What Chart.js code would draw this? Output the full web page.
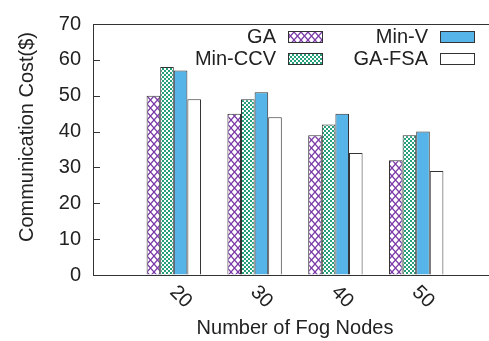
<html>
  <head>
    <script src="https://cdn.jsdelivr.net/npm/chart.js"></script>
    <style>
      body { margin: 0; overflow: hidden; background: #fff; }
      #chart_div { width: 489px; height: 341px; overflow: hidden; }
    </style>
  </head>
  <body>
    <div id="chart_div"><canvas id="costChart" width="500" height="341"></canvas></div>

    <script type="text/javascript">
      // data
      var categories = ['20', '30', '40', '50'];
      var gaValues = [50, 45, 39, 32];
      var minCcvValues = [58, 49, 42, 39];
      var minVValues = [57, 51, 45, 40];
      var gaFsaValues = [49, 44, 34, 29];
      var yTicks = [0, 10, 20, 30, 40, 50, 60, 70];

      var FONT = "'Liberation Sans', Arial, sans-serif";
      var TEXT = '#222';
      var EDGE = '#333';

      // empty slot before and after the groups, like the gnuplot xrange
      var labels = [''].concat(categories, ['']);
      function pad(arr) { return [null].concat(arr, [null]); }

      function makePattern(w, h, draw) {
        var c = document.createElement('canvas');
        c.width = w; c.height = h;
        var g = c.getContext('2d');
        draw(g, w, h);
        return g.createPattern(c, 'repeat');
      }

      var crossHatch = makePattern(7, 8, function (g, w, h) {
        g.fillStyle = '#fff';
        g.fillRect(0, 0, w, h);
        g.strokeStyle = '#7b3aa6';
        g.lineWidth = 1.3;
        g.beginPath();
        g.moveTo(0, 0); g.lineTo(w, h);
        g.moveTo(w, 0); g.lineTo(0, h);
        g.stroke();
      });

      var checker = makePattern(4, 4, function (g, w, h) {
        g.fillStyle = '#25a07a';
        g.fillRect(0, 0, w, h);
        g.fillStyle = '#fff';
        g.fillRect(0, 0, 2, 2);
        g.fillRect(2, 2, 2, 2);
      });

      var series = [
        { label: 'GA', data: gaValues, fill: crossHatch, col: 0, row: 0 },
        { label: 'Min-CCV', data: minCcvValues, fill: checker, col: 0, row: 1 },
        { label: 'Min-V', data: minVValues, fill: '#56b4e9', col: 1, row: 0 },
        { label: 'GA-FSA', data: gaFsaValues, fill: '#ffffff', col: 1, row: 1 }
      ];

      // inward y ticks, top border, rotated x labels, y title and the legend box
      var gnuplotFrame = {
        id: 'gnuplotFrame',
        afterDraw: function (chart) {
          var ctx = chart.ctx;
          var area = chart.chartArea;
          var ys = chart.scales.y, xs = chart.scales.x;
          ctx.save();
          ctx.strokeStyle = EDGE;
          ctx.lineWidth = 1;
          ctx.beginPath();
          ctx.moveTo(area.left, Math.round(area.top) + 0.5);
          ctx.lineTo(area.right + 5, Math.round(area.top) + 0.5);
          yTicks.forEach(function (v) {
            var py = Math.round(ys.getPixelForValue(v)) + 0.5;
            ctx.moveTo(area.left, py);
            ctx.lineTo(area.left + 7, py);
          });
          ctx.stroke();

          ctx.fillStyle = TEXT;
          ctx.font = '20px ' + FONT;
          ctx.textBaseline = 'middle';

          // y axis title
          ctx.save();
          ctx.translate(27, 137);
          ctx.rotate(-Math.PI / 2);
          ctx.textAlign = 'center';
          ctx.fillText('Communication Cost($)', 0, 0);
          ctx.restore();

          // x tick labels, rotated -45 like gnuplot
          ctx.textAlign = 'left';
          categories.forEach(function (lab, i) {
            var px = xs.getPixelForValue(i + 1);
            ctx.save();
            ctx.translate(px - 1, area.bottom + 14);
            ctx.rotate(Math.PI / 4);
            ctx.fillText(lab, 0, 0);
            ctx.restore();
          });

          // legend
          var colText = [276, 428];
          var rowY = [36.5, 58.5];
          chart.data.datasets.forEach(function (ds, i) {
            var s = series[i];
            var tx = colText[s.col], ty = rowY[s.row];
            ctx.fillStyle = TEXT;
            ctx.textAlign = 'right';
            ctx.fillText(ds.label, tx, ty + 1);
            var bx = tx + 12, by = ty - 5.5;
            ctx.fillStyle = ds.backgroundColor;
            ctx.fillRect(bx, by, 34, 11);
            ctx.strokeStyle = EDGE;
            ctx.strokeRect(bx + 0.5, Math.round(by) + 0.5, 34, 11);
          });
          ctx.restore();
        }
      };

      new Chart(document.getElementById('costChart'), {
        type: 'bar',
        data: {
          labels: labels,
          datasets: series.map(function (s) {
            return {
              label: s.label,
              data: pad(s.data),
              backgroundColor: s.fill,
              borderColor: EDGE,
              borderWidth: 1,
              categoryPercentage: 0.673,
              barPercentage: 1
            };
          })
        },
        options: {
          responsive: false,
          animation: false,
          layout: { padding: { top: 15, right: 3, left: 0, bottom: 0 } },
          plugins: {
            legend: { display: false },
            tooltip: { enabled: false }
          },
          scales: {
            x: {
              offset: false,
              grid: { display: false },
              border: { display: true, color: EDGE, width: 1 },
              ticks: { display: false },
              title: {
                display: true,
                text: 'Number of Fog Nodes',
                color: TEXT,
                font: { family: FONT, size: 20 },
                padding: { top: 0, bottom: 1 }
              },
              afterFit: function (s) { s.height = 66; }
            },
            y: {
              min: 0,
              max: 70,
              grid: { drawOnChartArea: false, drawTicks: false },
              border: { display: true, color: EDGE, width: 1 },
              ticks: {
                stepSize: 10,
                color: TEXT,
                padding: 12,
                font: { family: FONT, size: 20 }
              },
              afterFit: function (s) { s.width = 93; }
            }
          }
        },
        plugins: [gnuplotFrame]
      });
    </script>
  </body>
</html>
